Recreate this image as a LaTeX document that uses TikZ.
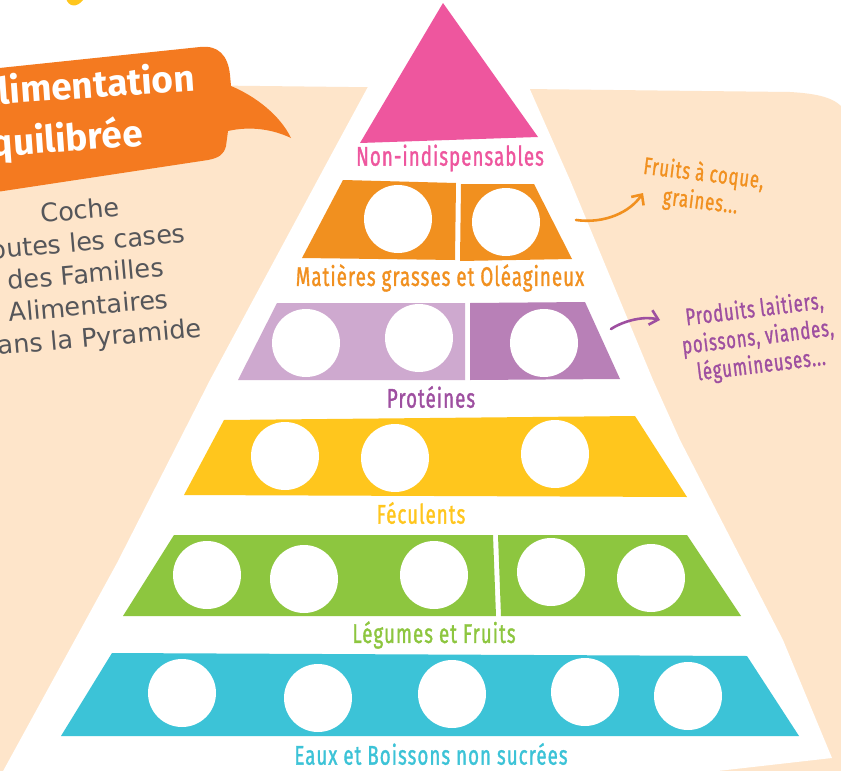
\documentclass[tikz,border=0pt]{standalone}
\usepackage{fontspec}
\setmainfont{DejaVu Sans}
\newfontfamily\bannerfont{Fira Sans}
\newfontfamily\handfont{Fira Sans}[FakeStretch=0.69, LetterSpace=4, FakeBold=1.2]
\usetikzlibrary{arrows.meta}
\definecolor{peach}{HTML}{FEE5CA}
\definecolor{banner}{HTML}{F47A20}
\definecolor{graytxt}{HTML}{55565A}
\definecolor{pinkT}{HTML}{EE569E}
\definecolor{orangeT}{HTML}{F1901F}
\definecolor{lilacT}{HTML}{CEA9CF}
\definecolor{purpleT}{HTML}{B880B7}
\definecolor{purpleTxt}{HTML}{9E4FA0}
\definecolor{yellowT}{HTML}{FFC61D}
\definecolor{greenT}{HTML}{8DC63F}
\definecolor{blueT}{HTML}{3CC3D7}
\tikzset{
  hole/.style={fill=white},
  tierlabel/.style={font=\handfont\fontsize{27}{27}\selectfont, inner sep=0pt},
  notelabel/.style={font=\handfont\fontsize{24}{28}\selectfont, inner sep=0pt, align=center},
  notearrow/.style={line width=2.6pt, line cap=round, -{Straight Barb[length=8pt,width=15pt,line width=2.6pt]}}
}
\begin{document}
\begin{tikzpicture}[x=1pt,y=-1pt]
\useasboundingbox (0,0) rectangle (841,771);
\fill[white] (0,0) rectangle (841,771);
% peach background
\fill[peach] (-5,83) -- (790,92) .. controls (825,94) and (838,100) .. (846,112) -- (846,776) -- (-5,776) -- cycle;
% white pyramid band
\fill[white] (415,-5) -- (490,-5) -- (528,85) -- (570,180) -- (653,380) -- (680,440) -- (783,640) -- (832,758) -- (700,773) -- (2,773) -- (117,563) -- (210,380) -- (330,157) -- (370,83) -- cycle;
% yellow fragment at top
\fill[yellowT] (66,-2) .. controls (68,7) and (77,8) .. (83,0) -- (83,-2) -- cycle;
% banner
\fill[banner] (-10,69) -- (200,47) .. controls (218,45) and (228,55) .. (230,75) -- (231,86)
  .. controls (255,96) and (280,115) .. (291,138)
  .. controls (272,129) and (250,126) .. (228,131) -- (226,146)
  .. controls (224,155) and (218,158) .. (208,160) -- (-10,193) -- cycle;
\node[anchor=base west, rotate=4, inner sep=0pt, text=white, font=\bannerfont\bfseries\fontsize{37}{37}\selectfont] (t1) at (-22,106) {Alimentation};
\node[anchor=base west, rotate=4, inner sep=0pt, text=white, font=\bannerfont\bfseries\fontsize{37}{37}\selectfont] (t2) at (-27,158) {Équilibrée};
% instructions
\node[rotate=5, align=center, text=graytxt, font=\fontsize{25.5}{32}\selectfont, inner sep=0pt] (instr) at (86,276) {Coche\\toutes les cases\\des Familles\\Alimentaires\\dans la Pyramide};
% tiers
\fill[pinkT] (443,3) -- (360,143) -- (538,137) -- cycle;
\fill[orangeT] (343,180) -- (456,183) -- (455,260) -- (302,258) -- cycle;
\fill[orangeT] (461,184) -- (534,184) -- (572,259) -- (460,261) -- cycle;
\fill[lilacT] (277,303) -- (465,303) -- (465,380) -- (238,380) -- cycle;
\fill[purpleT] (470,303) -- (585,302) -- (620,379) -- (470,380) -- cycle;
\fill[yellowT] (224,420) -- (635,416) -- (687,497) -- (184,495) -- cycle;
\fill[greenT] (174,535) -- (493,535) -- (496,616) -- (123,616) -- cycle;
\fill[greenT] (498,535) -- (687,535) -- (741,616) -- (501,616) -- cycle;
\fill[blueT] (112,653) -- (747,656) -- (799,736) -- (61,736) -- cycle;
% holes
\foreach \p in {(398,219),(506,222),(306,343),(419,338),(544,343),(285,456),(395,458),(555,454),(207,575),(304,579),(434,575),(551,572),(651,578),(182,693),(318,698),(452,694),(585,692),(688,696)}
  \fill[hole] \p circle[radius=34pt];
% tier labels
\node[tierlabel, text=pinkT] (l1) at (450,158) {Non-indispensables};
\node[tierlabel, text=orangeT] (l2) at (440,278) {Matières grasses et Oléagineux};
\node[tierlabel, text=purpleTxt] (l3) at (431,397) {Protéines};
\node[tierlabel, text=yellowT] (l4) at (421,513) {Féculents};
\node[tierlabel, text=greenT] (l5) at (434,635) {Légumes et Fruits};
\node[tierlabel, text=blueT] (l6) at (431,754) {Eaux et Boissons non sucrées};
% notes
\node[notelabel, rotate=-7, text=orangeT] (n1) at (702,188) {Fruits à coque,\\graines...};
\node[notelabel, rotate=7, text=purpleTxt] (n2) at (758,338) {Produits laitiers,\\poissons, viandes,\\légumineuses...};
\coordinate (a1s) at (576,220);
\coordinate (a1e) at (643,193);
\draw[notearrow, orangeT] (a1s) .. controls (605,224) and (630,212) .. (a1e);
\coordinate (a2s) at (611,329);
\coordinate (a2e) at (660,320);
\draw[notearrow, purpleTxt] (a2s) .. controls (625,320) and (645,316) .. (a2e);
\end{tikzpicture}
\end{document}
